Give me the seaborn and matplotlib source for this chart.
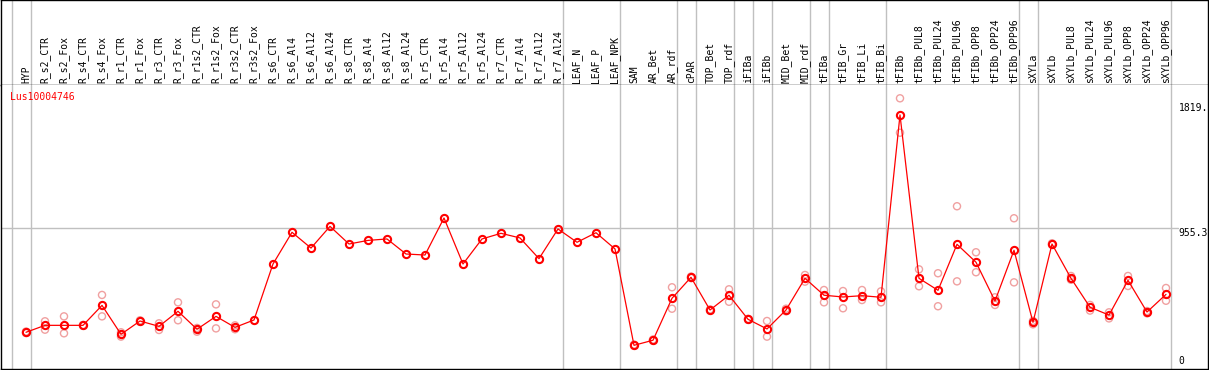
import numpy as np
import pandas as pd
import matplotlib
matplotlib.use("Agg")
import matplotlib.pyplot as plt
import matplotlib.transforms as mtransforms
import seaborn as sns

# 样本名称 (61 个)
samples = [
    "HYP",
    "R_s2_CTR", "R_s2_Fox", "R_s4_CTR", "R_s4_Fox", "R_r1_CTR", "R_r1_Fox",
    "R_r3_CTR", "R_r3_Fox", "R_r1s2_CTR", "R_r1s2_Fox", "R_r3s2_CTR", "R_r3s2_Fox",
    "R_s6_CTR", "R_s6_Al4", "R_s6_Al12", "R_s6_Al24",
    "R_s8_CTR", "R_s8_Al4", "R_s8_Al12", "R_s8_Al24",
    "R_r5_CTR", "R_r5_Al4", "R_r5_Al12", "R_r5_Al24",
    "R_r7_CTR", "R_r7_Al4", "R_r7_Al12", "R_r7_Al24",
    "LEAF_N", "LEAF_P", "LEAF_NPK",
    "SAM", "AR_Bet", "AR_rdf",
    "cPAR",
    "TOP_Bet", "TOP_rdf",
    "iFIBa",
    "iFIBb",
    "MID_Bet", "MID_rdf",
    "tFIBa",
    "tFIB_Gr", "tFIB_Li", "tFIB_Bi",
    "tFIBb", "tFIBb_PUL8", "tFIBb_PUL24", "tFIBb_PUL96", "tFIBb_OPP8", "tFIBb_OPP24", "tFIBb_OPP96",
    "sXYLa",
    "sXYLb", "sXYLb_PUL8", "sXYLb_PUL24", "sXYLb_PUL96", "sXYLb_OPP8", "sXYLb_OPP24", "sXYLb_OPP96",
]

# 每组样本数 (组之间画灰色竖线)
group_sizes = [1, 28, 3, 3, 1, 2, 1, 1, 2, 1, 3, 7, 1, 7]

# 平均表达值
mean_expr = [
    233,
    281, 281, 281, 419, 219, 311, 274, 378, 254, 343, 267, 318,
    705, 924, 815, 965,
    843, 868, 878, 774,
    767, 1023, 705, 878,
    917, 885, 742, 947,
    855, 921, 809,
    143, 178, 468,
    613,
    387, 489,
    323,
    256,
    387, 606,
    489,
    477, 486, 475,
    1735, 606, 523, 841, 717, 449, 800,
    302,
    843, 606, 406, 352, 592, 373, 495,
]

# 重复样本 (两次)
nan = np.nan
rep_a = [
    228,
    309, 343, 278, 491, 233, 306, 295, 440, 237, 426, 254, nan,
    nan, nan, nan, nan, nan, nan, nan, nan, nan, nan, nan, nan, nan, nan, nan, nan,
    nan, nan, nan,
    140, 175, 544,
    608,
    383, 530,
    320,
    311,
    378, 629,
    525,
    518, 525, 516,
    1850, 668, 641, 1104, 786, 475, 1021,
    288,
    838, 622, 422, 371, 622, 364, 539,
]
rep_b = [
    238,
    251, 226, 284, 343, 203, 316, 249, 316, 263, 260, 281, nan,
    nan, nan, nan, nan, nan, nan, nan, nan, nan, nan, nan, nan, nan, nan, nan, nan,
    nan, nan, nan,
    148, 183, 396,
    618,
    391, 444,
    326,
    203,
    396, 583,
    440,
    399, 456, 440,
    1612, 551, 413, 585, 648, 422, 578,
    312,
    848, 596, 383, 329, 553, 380, 451,
]

gene = "Lus10004746"
ytick_vals = [0, 955.3, 1819]
ytick_text = ["0", "955.3", "1819."]

n = len(samples)
x = np.arange(n)
df_mean = pd.DataFrame({"x": x, "value": mean_expr})
df_rep = pd.DataFrame({"x": np.concatenate([x, x]),
                       "value": np.concatenate([rep_a, rep_b])}).dropna()

sns.set_style("white")
plt.rcParams["font.family"] = ["DejaVu Sans Mono", "DejaVu Sans"]

W, H = 1209, 370
fig = plt.figure(figsize=(W / 100, H / 100), dpi=100)
left = 1 / W
width = 1207 / W
ax_head = fig.add_axes([left, (H - 85) / H, width, 85 / H])
ax = fig.add_axes([left, (H - 369) / H, width, 284 / H], sharex=ax_head)

# x 轴: 每个样本 19 像素, 第一个点在 26 像素处
px = 19.0
xmin = -(26 - 1) / px
xmax = xmin + 1207 / px
ax.set_xlim(xmin, xmax)
ylo = -3 / 0.1447
yhi = (366 - 85) / 0.1447
ax.set_ylim(ylo, yhi)
ax_head.set_ylim(0, 1)

# 组分隔线
bounds = np.concatenate([[0], np.cumsum(group_sizes)]) - 1 + 4.5 / px
for b in bounds:
    ax.axvline(b, color="#c0c0c0", lw=1.0, zorder=0)
    ax_head.axvline(b, color="#c0c0c0", lw=1.0, zorder=0)

ax.axhline(ytick_vals[1], xmin=0, xmax=(1178 - 1) / 1207, color="#c0c0c0", lw=1.0, zorder=0)

# 重复样本 + 平均值
sns.scatterplot(data=df_rep, x="x", y="value", ax=ax, marker="o", s=26,
                facecolors="none", edgecolor="#f0a0a0", linewidth=1.0, zorder=2, legend=False)
sns.lineplot(data=df_mean, x="x", y="value", ax=ax, color="red", lw=0.9,
             marker="o", markersize=5.2, markerfacecolor="none",
             markeredgecolor="red", markeredgewidth=1.5, zorder=3)

# 样本名 (竖排)
for i, name in enumerate(samples):
    ax_head.text(i, 0.025, name, rotation=90, ha="center", va="bottom",
                 fontsize=7, color="black")

# y 轴数值
tr = mtransforms.blended_transform_factory(ax.transAxes, ax.transData)
xlab = (1178.5 - 1) / 1207
for v, t in zip(ytick_vals, ytick_text):
    ax.text(xlab, v, t, transform=tr, ha="left",
            va="bottom" if v == 0 else "top", fontsize=7, color="black")

ax.text((10 - 1) / 1207, (369 - 92) / 284, gene, transform=ax.transAxes,
        ha="left", va="top", fontsize=7, color="red")

for a in (ax, ax_head):
    a.set_xticks([])
    a.set_yticks([])
    a.set_xlabel("")
    a.set_ylabel("")
    for s in a.spines.values():
        s.set_color("black")
        s.set_linewidth(1.0)
ax.spines["top"].set_visible(False)

fig.savefig("out.png", dpi=100)
